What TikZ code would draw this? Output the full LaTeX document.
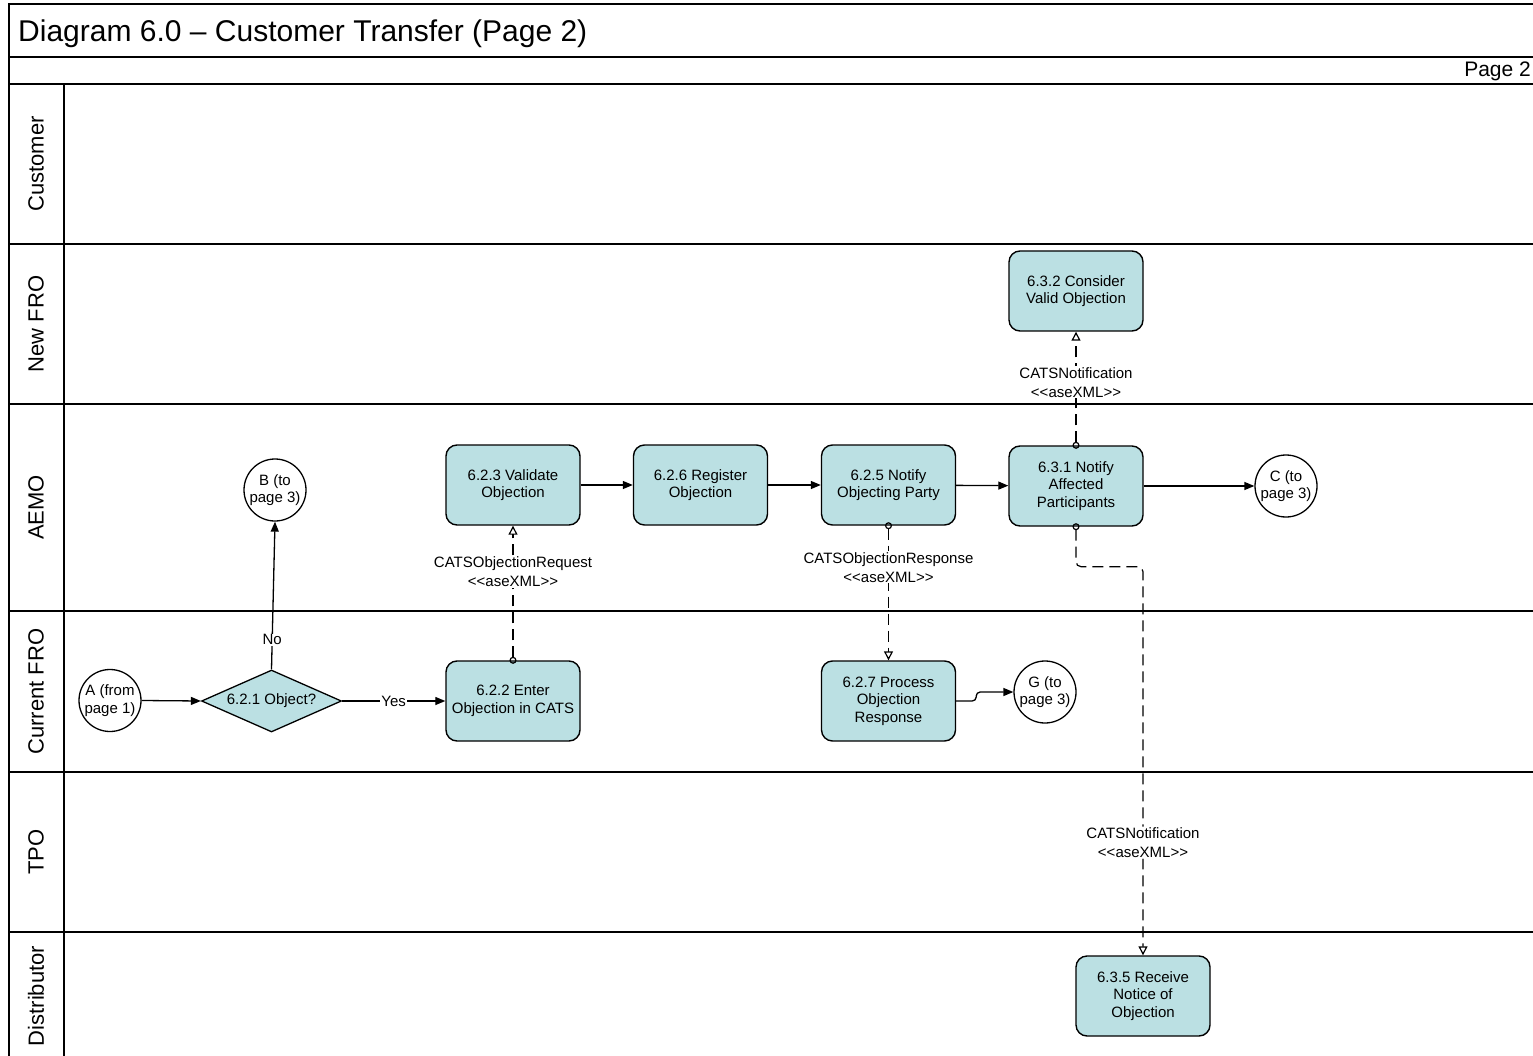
\documentclass[tikz,border=0pt]{standalone}
\usepackage{fontspec}
\setmainfont{Liberation Sans}
\usetikzlibrary{arrows.meta,shapes.geometric}
\definecolor{boxfill}{RGB}{187,224,227}
\newcommand\ltlt{<\kern0pt<}
\newcommand\gtgt{>\kern0pt>}
\begin{document}
\begin{tikzpicture}[x=1pt,y=-1pt,
  frame/.style={line width=2pt},
  proc/.style={draw, line width=1.4pt, fill=boxfill, rounded corners=11pt,
    minimum width=134pt, minimum height=80pt, align=center, inner sep=2pt,
    font=\fontsize{15}{17.5}\selectfont},
  conn/.style={draw, circle, line width=1.3pt, minimum size=62pt, inner sep=0pt,
    align=center, font=\fontsize{15}{17.5}\selectfont},
  decision/.style={draw, diamond, fill=boxfill, line width=1.3pt, aspect=2.26,
    minimum width=140pt, minimum height=62pt, inner sep=0pt,
    font=\fontsize{15}{17.5}\selectfont},
  flow/.style={line width=1.3pt, -{Triangle[length=10pt,width=8pt]}},
  msg/.style={line width=1.2pt, dash pattern=on 11pt off 6pt, shorten <=-3.5pt,
    {Circle[open,length=7pt,width=7pt]}-{Triangle[open,length=9pt,width=9pt]}},
  lbl/.style={fill=white, inner sep=1pt, align=center, font=\fontsize{15}{19}\selectfont},
  lanelbl/.style={rotate=90, inner sep=0pt, font=\fontsize{22}{26}\selectfont}
]
\useasboundingbox (0,0) rectangle (1533,1056);
% frame
\draw[frame] (1534,4) -- (9,4) -- (9,1060);
\draw[frame] (9,57) -- (1534,57);
\draw[frame] (9,84) -- (1534,84);
\foreach \yy in {244,404,611,772,932} { \draw[frame] (9,\yy) -- (1534,\yy); }
\draw[frame] (64,84) -- (64,1060);
% title
\node[anchor=base west, inner sep=0pt, font=\fontsize{30}{34}\selectfont] (title) at (18,42) {Diagram 6.0 – Customer Transfer (Page 2)};
\node[anchor=base east, inner sep=0pt, font=\fontsize{21}{24}\selectfont] (page) at (1531,77) {Page 2};
% lanes
\node[lanelbl] (lcust) at (36,164) {Customer};
\node[lanelbl] (lnew) at (36,324) {New FRO};
\node[lanelbl] (laemo) at (36,507.5) {AEMO};
\node[lanelbl] (lcur) at (36,691.5) {Current FRO};
\node[lanelbl] (ltpo) at (36,852) {TPO};
\node[lanelbl] (ldist) at (36,996) {Distributor};
% nodes
\node[proc] (n632) at (1076,291) {6.3.2 Consider\\Valid Objection};
\node[proc] (n623) at (513,485) {6.2.3 Validate\\Objection};
\node[proc] (n626) at (700.5,485) {6.2.6 Register\\Objection};
\node[proc] (n625) at (888.5,485) {6.2.5 Notify\\Objecting Party};
\node[proc] (n631) at (1076,486) {6.3.1 Notify\\Affected\\Participants};
\node[conn] (c) at (1286,486) {C (to\\page 3)};
\node[conn] (b) at (275,490) {B (to\\page 3)};
\node[conn] (a) at (110,700.5) {A (from\\page 1)};
\node[decision] (d) at (271.5,701) {6.2.1 Object?};
\node[proc] (n622) at (513,701) {6.2.2 Enter\\Objection in CATS};
\node[proc] (n627) at (888.5,701) {6.2.7 Process\\Objection\\Response};
\node[conn] (g) at (1045,692) {G (to\\page 3)};
\node[proc] (n635) at (1143,996) {6.3.5 Receive\\Notice of\\Objection};
% flows
\draw[flow] (a.east) -- (d.west);
\draw[flow] (d.east) -- node[lbl] {Yes} (n622.west);
\draw[flow] (d.north) -- node[lbl, pos=0.2] {No} (b.south);
\draw[flow] (n623) -- (n626);
\draw[flow] (n626) -- (n625);
\draw[flow] (n625) -- (n631);
\draw[flow] (n631) -- (c);
\draw[flow, rounded corners=4pt] (n627.east) -- ++(20,0) |- (g.west);
% messages
\draw[msg] (n622.north) -- node[lbl, pos=0.657] {CATSObjectionRequest\\\ltlt aseXML\gtgt} (n623.south);
\draw[msg] (n625.south) -- node[lbl, pos=0.31] {CATSObjectionResponse\\\ltlt aseXML\gtgt} (n627.north);
\draw[msg] (n631.north) -- node[lbl, pos=0.555] {CATSNotification\\\ltlt aseXML\gtgt} (n632.south);
\draw[msg, rounded corners=5pt] (n631.south) -- ++(0,40) -| node[lbl, pos=0.855] {CATSNotification\\\ltlt aseXML\gtgt} (n635.north);
\end{tikzpicture}
\end{document}
